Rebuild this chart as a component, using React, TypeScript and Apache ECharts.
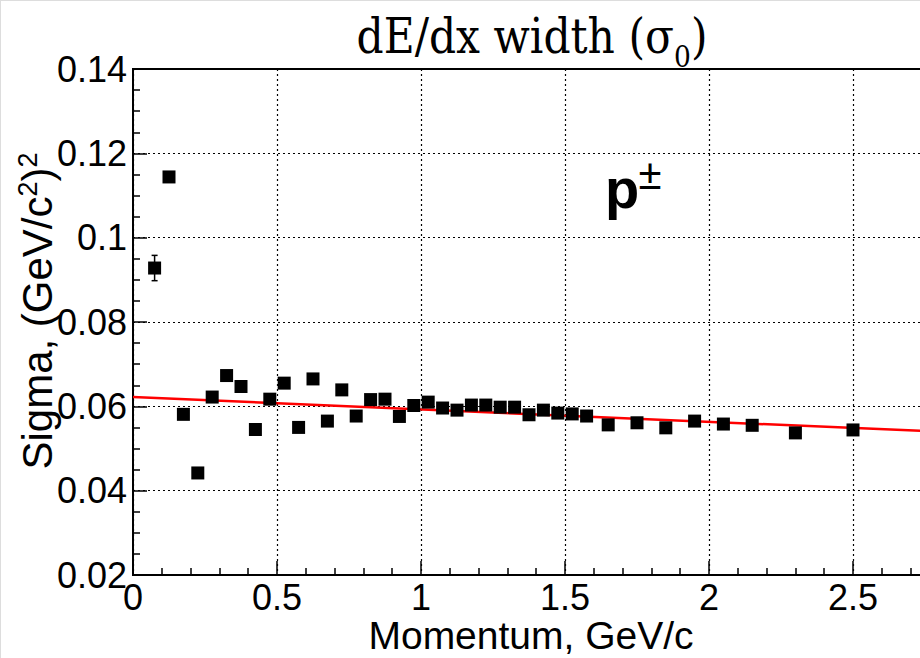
import React, { useEffect, useRef } from "react";
import * as echarts from "echarts";

// Measured points (momentum in GeV/c, sigma in (GeV/c^2)^2)
const momentum = [
  0.075, 0.125, 0.175, 0.225, 0.275, 0.325, 0.375, 0.425, 0.475, 0.525,
  0.575, 0.625, 0.675, 0.725, 0.775, 0.825, 0.875, 0.925, 0.975, 1.025,
  1.075, 1.125, 1.175, 1.225, 1.275, 1.325, 1.375, 1.425, 1.475, 1.525,
  1.575, 1.65, 1.75, 1.85, 1.95, 2.05, 2.15, 2.3, 2.5,
];
const sigma = [
  0.0928, 0.1144, 0.0581, 0.0442, 0.0622, 0.0673, 0.0647, 0.0545, 0.0617, 0.0655,
  0.055, 0.0665, 0.0565, 0.0639, 0.0577, 0.0616, 0.0617, 0.0576, 0.0602, 0.061,
  0.0596, 0.0591, 0.0603, 0.0603, 0.0598, 0.0598, 0.058, 0.0591, 0.0584, 0.0582,
  0.0577, 0.0556, 0.0561, 0.0549, 0.0565, 0.0558, 0.0555, 0.0537, 0.0544,
];
// Visible error bars (others are hidden behind the markers)
const errMomentum = [0.075];
const errSigma = [0.0928];
const errSize = [0.003];

// Fit line end points
const fitX = [0, 2.76];
const fitY = [0.0622, 0.0541];

const xTicks = { min: 0, max: 3, interval: 0.5 };
const yTicks = { min: 0.02, max: 0.14, interval: 0.02 };

const titleText = "dE/dx width (σ";
const titleSub = "0";
const titleEnd = ")";
const xName = "Momentum, GeV/c";
const particleLabel = "p";
const particleSup = "±";

export default function App() {
  const ref = useRef<HTMLDivElement>(null);
  useEffect(() => {
    const chart = echarts.init(ref.current!, null, { renderer: "svg" });
    const sans = "'Liberation Sans', Arial, Helvetica, sans-serif";
    const serif = "'DejaVu Serif', serif";

    // measure title pieces so the subscript can be placed by hand
    const ctx = document.createElement("canvas").getContext("2d")!;
    const mainFont = `48px ${serif}`;
    const subFont = `30px ${serif}`;
    ctx.font = mainFont;
    const w1 = ctx.measureText(titleText).width;
    const w3 = ctx.measureText(titleEnd).width;
    ctx.font = subFont;
    const w2 = ctx.measureText(titleSub).width;
    const total = w1 + w2 + w3;
    const titleWidth = 351;
    const titleScale = titleWidth / total;
    const rx0 = -total / 2;

    const axisCommon = {
      axisLine: { show: true, onZero: false, lineStyle: { color: "#000", width: 2 } },
      axisTick: { show: true, inside: true, length: 14, lineStyle: { color: "#000", width: 1.5 } },
      splitLine: { show: true, lineStyle: { color: "#000", type: [2, 3], width: 1.2 } },
    };
    chart.setOption({
      animation: false,
      backgroundColor: "#fff",
      grid: {
        left: 133,
        top: 69,
        bottom: 83,
        width: 864,
        outerBoundsMode: "none",
        containLabel: false,
        show: true,
        borderColor: "#000",
        borderWidth: 2,
        backgroundColor: "#fff",
      },
      xAxis: {
        type: "value",
        ...xTicks,
        ...axisCommon,
        minorTick: { show: true, splitNumber: 5, length: 7, lineStyle: { color: "#000", width: 1.5 } },
        axisLabel: { color: "#000", fontSize: 36, fontFamily: sans, margin: 9, lineHeight: 26, showMaxLabel: false },
      },
      yAxis: {
        type: "value",
        ...yTicks,
        ...axisCommon,
        minorTick: { show: true, splitNumber: 4, length: 7, lineStyle: { color: "#000", width: 1.5 } },
        axisLabel: { color: "#000", fontSize: 36, fontFamily: sans, margin: 6 },
      },
      series: [
        {
          type: "line",
          data: fitX.map((x, i) => [x, fitY[i]]),
          showSymbol: false,
          symbol: "none",
          lineStyle: { color: "#ff0000", width: 2.5 },
          z: 3,
        },
        {
          type: "custom",
          data: errMomentum.map((x, i) => [x, errSigma[i], errSize[i]]),
          encode: { x: 0, y: 1 },
          z: 4,
          renderItem: (params: any, api: any) => {
            const x = api.value(0);
            const y = api.value(1);
            const e = api.value(2);
            const top = api.coord([x, y + e]);
            const bot = api.coord([x, y - e]);
            const st = { stroke: "#000", lineWidth: 1.5 };
            return {
              type: "group",
              children: [
                { type: "line", shape: { x1: top[0], y1: top[1], x2: bot[0], y2: bot[1] }, style: st },
                { type: "line", shape: { x1: top[0] - 3, y1: top[1], x2: top[0] + 3, y2: top[1] }, style: st },
                { type: "line", shape: { x1: bot[0] - 3, y1: bot[1], x2: bot[0] + 3, y2: bot[1] }, style: st },
              ],
            };
          },
        },
        {
          type: "scatter",
          data: momentum.map((m, i) => [m, sigma[i]]),
          symbol: "rect",
          symbolSize: 13,
          itemStyle: { color: "#000", opacity: 1 },
          z: 5,
        },
      ],
      graphic: [
        {
          type: "line",
          shape: { x1: 0.5, y1: 0, x2: 0.5, y2: 658 },
          style: { stroke: "#dddddd", lineWidth: 1 },
        },
        {
          type: "line",
          shape: { x1: 0, y1: 0.5, x2: 920, y2: 0.5 },
          style: { stroke: "#dddddd", lineWidth: 1 },
        },
        {
          type: "group",
          x: 532,
          y: 0,
          scaleX: titleScale,
          children: [
            {
              type: "text",
              x: rx0,
              y: 37,
              style: { text: titleText, font: mainFont, fill: "#000", align: "left", verticalAlign: "middle" },
            },
            {
              type: "text",
              x: rx0 + w1,
              y: 57,
              style: { text: titleSub, font: subFont, fill: "#000", align: "left", verticalAlign: "middle" },
            },
            {
              type: "text",
              x: rx0 + w1 + w2,
              y: 37,
              style: { text: titleEnd, font: mainFont, fill: "#000", align: "left", verticalAlign: "middle" },
            },
          ],
        },
        {
          type: "text",
          x: 37,
          y: 311,
          rotation: Math.PI / 2,
          style: {
            text: "{a|Sigma, (GeV/c}{s|2}{a|)}{s|2}",
            align: "center",
            verticalAlign: "middle",
            rich: {
              a: { fontFamily: sans, fontSize: 42, lineHeight: 46, fill: "#000", color: "#000" },
              s: { fontFamily: sans, fontSize: 27, lineHeight: 18, verticalAlign: "top", fill: "#000", color: "#000" },
            },
          },
        },
        {
          type: "text",
          x: 531,
          y: 635,
          style: {
            text: xName,
            font: `39px ${sans}`,
            lineHeight: 32,
            fill: "#000",
            align: "center",
            verticalAlign: "middle",
          },
        },
        {
          type: "text",
          x: 605,
          y: 188,
          style: {
            text: particleLabel,
            font: `bold 56px ${sans}`,
            fill: "#000",
            align: "left",
            verticalAlign: "middle",
          },
          z: 10,
        },
        {
          type: "text",
          x: 650,
          y: 174,
          style: {
            text: particleSup,
            font: `42px ${sans}`,
            fill: "#000",
            align: "center",
            verticalAlign: "middle",
          },
          z: 10,
        },
      ],
    });
    return () => chart.dispose();
  }, []);
  return (
    <div
      ref={ref}
      style={{ position: "fixed", left: 0, top: 0, width: 920, height: 658, background: "#fff" }}
    />
  );
}
